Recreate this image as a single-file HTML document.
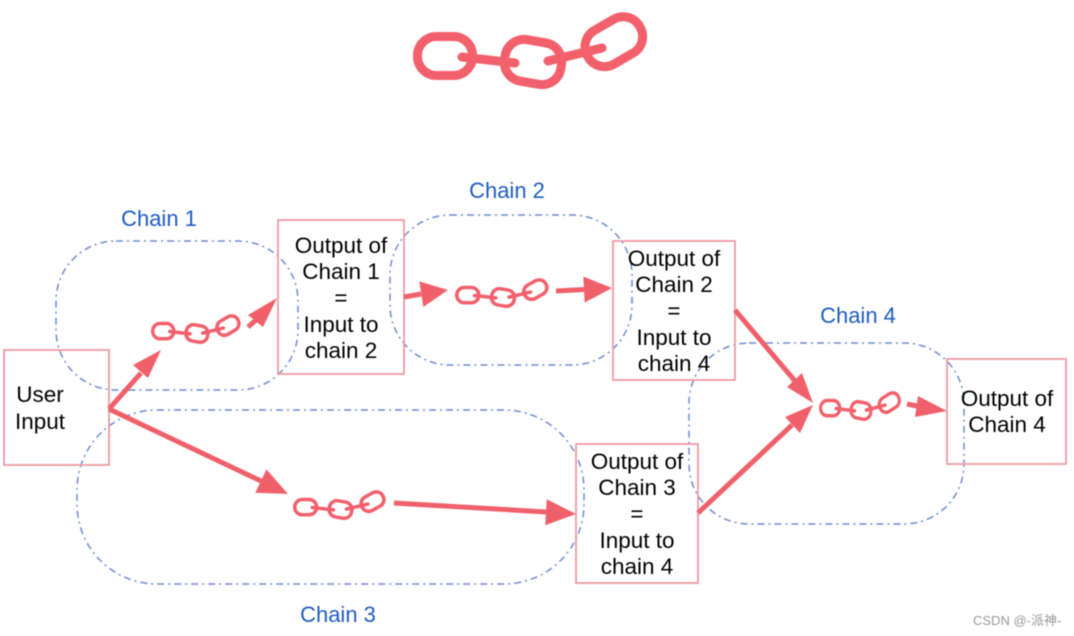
<!DOCTYPE html>
<html>
<head>
<meta charset="utf-8">
<style>
html,body{margin:0;padding:0;background:#fff;width:1074px;height:636px;overflow:hidden}
svg{display:block;filter:blur(0.55px)}
.t{font-family:"Liberation Sans",sans-serif;font-size:22.5px;fill:#000;text-anchor:middle}
.c{font-family:"Liberation Sans",sans-serif;font-size:22px;fill:#1f5cc0;text-anchor:middle}
.b{fill:none;stroke:#ec9aa2;stroke-width:1.8}
.d{fill:none;stroke:#6f8bd2;stroke-width:1.5;stroke-dasharray:7 4 2 4}
.l{stroke:#f0606b;stroke-width:5;fill:none}
.h{fill:#f0606b}
</style>
</head>
<body>
<svg width="1074" height="636" viewBox="0 0 1074 636" xmlns="http://www.w3.org/2000/svg">
<defs>
<g id="chain" fill="none" stroke="#f2606c" stroke-width="9">
<rect x="417.5" y="36.5" width="55" height="39" rx="19"/>
<rect x="504.5" y="41" width="57" height="42" rx="19" transform="rotate(10 533 62)"/>
<rect x="583.5" y="22" width="60" height="39" rx="19" transform="rotate(-30 614 41)"/>
<path d="M462 57L515 63M548 61L602 48" stroke-linecap="round" stroke-width="9"/>
</g>
</defs>

<rect class="d" x="56" y="241" width="242" height="149" rx="60"/>
<rect class="d" x="390" y="215" width="242" height="150" rx="60"/>
<rect class="d" x="77" y="410" width="507" height="174" rx="80"/>
<rect class="d" x="689" y="343" width="275" height="181" rx="60"/>

<rect class="b" x="4" y="350" width="105" height="115"/>
<rect class="b" x="278" y="220" width="126" height="154"/>
<rect class="b" x="613" y="241" width="122" height="139"/>
<rect class="b" x="576" y="444" width="122" height="139"/>
<rect class="b" x="947" y="359" width="119" height="105"/>

<use href="#chain" transform="translate(151 314) scale(.383 .39) translate(-413 -12)"/>
<use href="#chain" transform="translate(455 278) scale(.4 .39) translate(-413 -12)"/>
<use href="#chain" transform="translate(293 490) scale(.396 .39) translate(-413 -12)"/>
<use href="#chain" transform="translate(819 391) scale(.35 .39) translate(-413 -12)"/>
<use href="#chain" />

<line class="l" x1="109" y1="409" x2="141" y2="373"/>
<polygon class="h" points="161,350 148,378 133,365"/>
<line class="l" x1="248" y1="327" x2="256" y2="320"/>
<polygon class="h" points="277,298 263,327 248,315"/>
<line class="l" x1="404" y1="297" x2="421" y2="294"/>
<polygon class="h" points="448,290 423.3,307 419.3,281.4"/>
<line class="l" x1="556" y1="291" x2="584" y2="289.5"/>
<polygon class="h" points="612,288 584.7,302.5 583.3,276.5"/>
<line class="l" x1="109" y1="409" x2="261" y2="481"/>
<polygon class="h" points="288,494 255.3,492.8 266.5,469.4"/>
<line class="l" x1="394" y1="503" x2="546" y2="512"/>
<polygon class="h" points="576,514 545.2,525.2 546.8,499.2"/>
<line class="l" x1="735" y1="310" x2="795" y2="381"/>
<polygon class="h" points="813,403 787,387 802,373"/>
<line class="l" x1="698" y1="513" x2="792" y2="425"/>
<polygon class="h" points="813,405 785,417 800,433"/>
<line class="l" x1="907" y1="404" x2="917" y2="406"/>
<polygon class="h" points="947,411 915,417 918,396"/>

<text class="t" x="40" y="402">User</text>
<text class="t" x="40" y="429">Input</text>

<text class="t" x="341" y="253">Output of</text>
<text class="t" x="341" y="279">Chain 1</text>
<text class="t" x="341" y="305">=</text>
<text class="t" x="341" y="332">Input to</text>
<text class="t" x="341" y="358">chain 2</text>

<text class="t" x="674" y="266">Output of</text>
<text class="t" x="674" y="292">Chain 2</text>
<text class="t" x="674" y="318">=</text>
<text class="t" x="674" y="345">Input to</text>
<text class="t" x="674" y="371">chain 4</text>

<text class="t" x="637" y="469">Output of</text>
<text class="t" x="637" y="495">Chain 3</text>
<text class="t" x="637" y="521">=</text>
<text class="t" x="637" y="548">Input to</text>
<text class="t" x="637" y="574">chain 4</text>

<text class="t" x="1007" y="406">Output of</text>
<text class="t" x="1007" y="432">Chain 4</text>

<text class="c" x="159" y="226">Chain 1</text>
<text class="c" x="507" y="198">Chain 2</text>
<text class="c" x="338" y="622">Chain 3</text>
<text class="c" x="858" y="323">Chain 4</text>

<text x="973" y="625" style="font-family:'Liberation Sans','Noto Sans CJK SC',sans-serif;font-size:13px;fill:#999">CSDN @-派神-</text>
</svg>
</body>
</html>
